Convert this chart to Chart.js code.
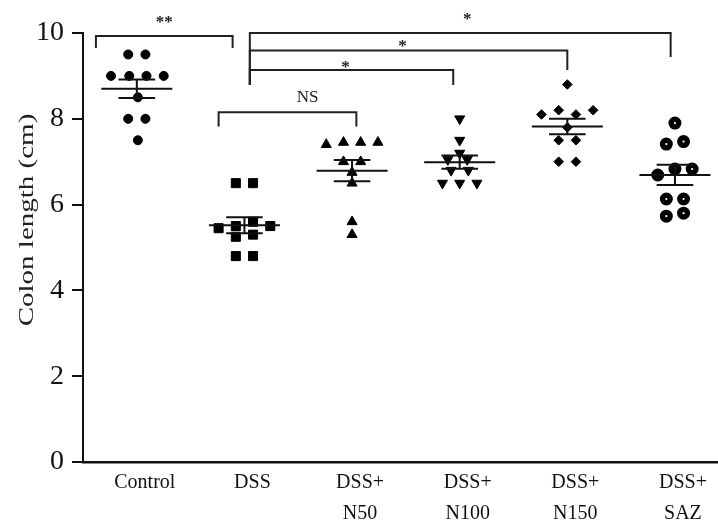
<!DOCTYPE html>
<html>
<head>
<meta charset="utf-8">
<script src="https://cdn.jsdelivr.net/npm/chart.js@4.4.1/dist/chart.umd.min.js"></script>
<style>
  body { margin: 0; background: #fff; }
  canvas { display: block; }
</style>
</head>
<body>
<canvas id="colonChart" width="718" height="520"></canvas>
<script>
"use strict"

/*** DATA ***/
const groups = [['Control'], ['DSS'], ['DSS+', 'N50'], ['DSS+', 'N100'], ['DSS+', 'N150'], ['DSS+', 'SAZ']];
const yTicks = [0, 2, 4, 6, 8, 10];
const yTitle = 'Colon length (cm)';

// colon length of each mouse (cm)
const controlValues = [9.5, 9.5, 9.0, 9.0, 9.0, 9.0, 8.5, 8.0, 8.0, 7.5];
const dssValues = [6.5, 6.5, 5.6, 5.5, 5.45, 5.5, 5.3, 5.25, 4.8, 4.8];
const n50Values = [7.4, 7.45, 7.45, 7.45, 7.0, 7.0, 6.75, 6.5, 5.6, 5.3];
const n100Values = [8.0, 7.5, 7.2, 7.05, 7.05, 6.8, 6.8, 6.5, 6.5, 6.5];
const n150Values = [8.8, 8.1, 8.2, 8.1, 8.2, 7.8, 7.5, 7.5, 7.0, 7.0];
const sazValues = [7.9, 7.47, 7.41, 6.83, 6.83, 6.69, 6.13, 6.13, 5.8, 5.73];

// sideways spread of the dots inside each column (category units)
const controlJitter = [-0.08, 0.08, -0.24, -0.07, 0.09, 0.25, 0.01, -0.08, 0.08, 0.01];
const dssJitter = [-0.08, 0.08, 0.08, -0.08, -0.24, 0.24, 0.08, -0.08, -0.08, 0.08];
const n50Jitter = [-0.24, -0.08, 0.08, 0.24, -0.08, 0.08, 0, 0, 0, 0];
const n100Jitter = [0, 0, 0, -0.11, 0.07, -0.08, 0.08, -0.16, 0, 0.16];
const n150Jitter = [0, -0.24, -0.08, 0.08, 0.24, 0, -0.08, 0.08, -0.08, 0.08];
const sazJitter = [0, 0.08, -0.08, 0, 0.16, -0.16, -0.08, 0.08, 0.08, -0.08];

// significance brackets
const bracketFrom = [-0.38, 0.76, 1.05, 1.05, 1.05];
const bracketTo = [0.89, 2.04, 2.94, 4.0, 4.96];
const bracketTop = [9.93, 8.15, 9.14, 9.59, 10.0];
const bracketLeftEnd = [9.65, 7.82, 8.79, 8.79, 8.79];
const bracketRightEnd = [9.65, 7.82, 8.79, 9.14, 9.44];
const bracketLabels = ['**', 'NS', '*', '*', '*'];
/*** END ***/

const allValues = [controlValues, dssValues, n50Values, n100Values, n150Values, sazValues];
const allJitter = [controlJitter, dssJitter, n50Jitter, n100Jitter, n150Jitter, sazJitter];

// label placement of each bracket text: [dx, lift] in px from bracket middle
const labelShift = [[0, 18], [20, 15], [-6, 7], [-6, 9], [7, 18]];

// marker for each group
const markers = [
    { pointStyle: 'circle', radius: 4.5, rotation: 0, bg: '#000', bw: 1 },
    { pointStyle: 'rect', radius: 6.4, rotation: 0, bg: '#000', bw: 1 },
    { pointStyle: 'triangle', radius: 5.8, rotation: 0, bg: '#000', bw: 1 },
    { pointStyle: 'triangle', radius: 5.8, rotation: 180, bg: '#000', bw: 1 },
    { pointStyle: 'rectRot', radius: 4.8, rotation: 0, bg: '#000', bw: 1 },
    { pointStyle: 'circle', radius: 3.8, rotation: 0, bg: '#fff', bw: 5.4 }
];

let datasets = [];
allValues.forEach(function (values, i) {
    let m = markers[i];
    datasets.push({
        label: groups[i].join(' '),
        data: values.map((v, j) => ({ x: i + allJitter[i][j], y: v })),
        pointStyle: m.pointStyle,
        pointRadius: m.radius,
        pointRotation: m.rotation,
        pointBackgroundColor: m.bg,
        pointBorderColor: '#000',
        pointBorderWidth: m.bw,
        clip: false
    });
});

// mean line + SEM whiskers, computed from the values
const meanSemPlugin = {
    id: 'meanSem',
    afterDatasetsDraw(chart) {
        const ctx = chart.ctx;
        const xs = chart.scales.x, ys = chart.scales.y;
        ctx.save();
        ctx.strokeStyle = '#111';
        ctx.lineWidth = 2;
        allValues.forEach(function (values, i) {
            const n = values.length;
            const mean = values.reduce((a, b) => a + b, 0) / n;
            const sd = Math.sqrt(values.reduce((a, b) => a + (b - mean) * (b - mean), 0) / (n - 1));
            const sem = sd / Math.sqrt(n);
            const cx = xs.getPixelForValue(i);
            const w = xs.getPixelForValue(i + 0.33) - cx;
            const cw = xs.getPixelForValue(i + 0.17) - cx;
            const yM = ys.getPixelForValue(mean);
            const yHi = ys.getPixelForValue(mean + sem);
            const yLo = ys.getPixelForValue(mean - sem);
            ctx.beginPath();
            ctx.moveTo(cx - w, yM); ctx.lineTo(cx + w, yM);
            ctx.moveTo(cx - cw, yHi); ctx.lineTo(cx + cw, yHi);
            ctx.moveTo(cx - cw, yLo); ctx.lineTo(cx + cw, yLo);
            ctx.moveTo(cx, yHi); ctx.lineTo(cx, yLo);
            ctx.stroke();
        });
        ctx.restore();
    }
};

const bracketPlugin = {
    id: 'brackets',
    afterDraw(chart) {
        const ctx = chart.ctx;
        const xs = chart.scales.x, ys = chart.scales.y;
        ctx.save();
        ctx.strokeStyle = '#222';
        ctx.lineWidth = 2;
        ctx.fillStyle = '#222';
        ctx.textAlign = 'center';
        bracketLabels.forEach(function (lab, k) {
            const x1 = xs.getPixelForValue(bracketFrom[k]);
            const x2 = xs.getPixelForValue(bracketTo[k]);
            const yT = ys.getPixelForValue(bracketTop[k]);
            ctx.beginPath();
            ctx.moveTo(x1, ys.getPixelForValue(bracketLeftEnd[k]));
            ctx.lineTo(x1, yT);
            ctx.lineTo(x2, yT);
            ctx.lineTo(x2, ys.getPixelForValue(bracketRightEnd[k]));
            ctx.stroke();
            const lx = (x1 + x2) / 2 + labelShift[k][0];
            const ly = yT - labelShift[k][1];
            if (lab === 'NS') {
                ctx.font = '17px "Liberation Serif", serif';
                ctx.textBaseline = 'middle';
                ctx.fillText(lab, lx, ly);
            } else {
                // asterisks sit high in the em box, so drop the baseline
                ctx.font = 'bold 17px "Liberation Serif", serif';
                ctx.textBaseline = 'alphabetic';
                ctx.fillText(lab, lx, ly + 9);
            }
        });
        ctx.restore();
    }
};

// rotated, slightly stretched y title like the original figure
const yTitlePlugin = {
    id: 'yTitle',
    afterDraw(chart) {
        const ctx = chart.ctx;
        ctx.save();
        ctx.translate(28, 220);
        ctx.rotate(-Math.PI / 2);
        ctx.scale(1.45, 1);
        ctx.font = '20px "Liberation Serif", serif';
        ctx.fillStyle = '#222';
        ctx.textAlign = 'center';
        ctx.textBaseline = 'middle';
        ctx.fillText(yTitle, 0, 0);
        ctx.restore();
    }
};

const ctx = document.getElementById('colonChart').getContext('2d');
const colonChart = new Chart(ctx, {
    type: 'scatter',
    data: { datasets: datasets },
    options: {
        responsive: false,
        animation: false,
        events: [],
        layout: { autoPadding: false, padding: { top: 33, right: 0, left: 0, bottom: 0 } },
        plugins: {
            legend: { display: false },
            tooltip: { enabled: false }
        },
        scales: {
            x: {
                type: 'linear',
                min: -0.5,
                max: 5.4,
                afterBuildTicks: function (scale) {
                    scale.ticks = groups.map((g, i) => ({ value: i }));
                },
                afterFit: function (scale) {
                    scale.height = 58;
                    scale.paddingLeft = 0;
                    scale.paddingRight = 0;
                },
                grid: { display: false },
                border: { display: true, color: '#111', width: 2.5 },
                ticks: {
                    autoSkip: false,
                    maxRotation: 0,
                    padding: -3,
                    labelOffset: 8,
                    color: '#111',
                    font: { family: '"Liberation Serif", serif', size: 20, lineHeight: 1.55 },
                    callback: function (value) { return groups[value]; }
                }
            },
            y: {
                min: 0,
                max: 10,
                afterBuildTicks: function (scale) {
                    scale.ticks = yTicks.map(v => ({ value: v }));
                },
                afterFit: function (scale) { scale.width = 83; },
                grid: { drawOnChartArea: false, drawTicks: true, tickLength: 11, color: '#111', lineWidth: 2 },
                border: { display: true, color: '#111', width: 2 },
                ticks: {
                    padding: 8,
                    color: '#111',
                    font: { family: '"Liberation Serif", serif', size: 28 }
                }
            }
        }
    },
    plugins: [meanSemPlugin, bracketPlugin, yTitlePlugin]
});
</script>
</body>
</html>
